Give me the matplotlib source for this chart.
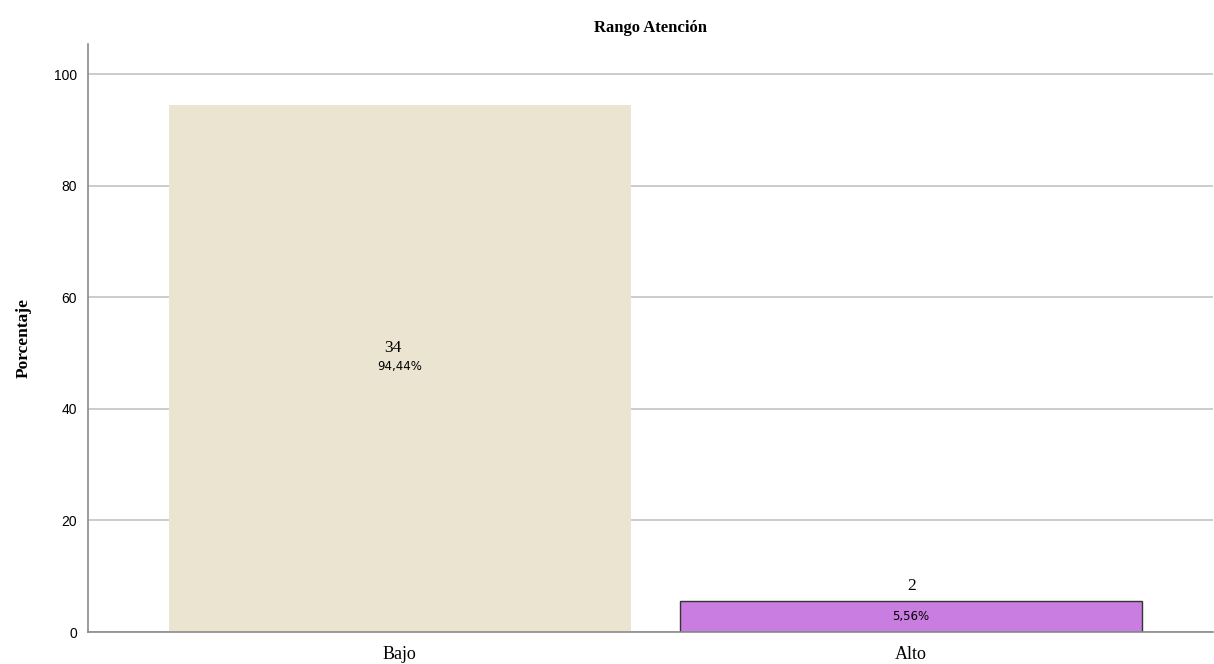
import matplotlib
matplotlib.use("Agg")
import matplotlib.pyplot as plt

categories = ["Bajo", "Alto"]
counts = [34, 2]
percents = [94.44, 5.56]
pct_labels = ["94,44%", "5,56%"]
colors = ["#EAE4D0", "#C97DE0"]
edges = ["none", "#333333"]

fig = plt.figure(figsize=(12.14, 6.64), dpi=100)
ax = fig.add_axes([88/1214, 32/664, (1213-88)/1214, (632-44)/664])

x = list(range(len(categories)))
for i in x:
    ax.bar(i, percents[i], width=0.903, color=colors[i],
           edgecolor=edges[i], linewidth=1.0 if edges[i] != "none" else 0, zorder=3)

ax.set_xlim(-0.609, 1.590)
ax.set_ylim(0, 105.4)
ax.set_yticks([0, 20, 40, 60, 80, 100])
ax.set_yticklabels(["0", "20", "40", "60", "80", "100"],
                   fontfamily="Liberation Sans", fontsize=10)
ax.set_xticks(x)
ax.set_xticklabels(categories, fontfamily="Liberation Serif", fontsize=13)
ax.tick_params(axis="x", length=0, pad=10)
ax.tick_params(axis="y", length=0, pad=8)

ax.yaxis.grid(True, color="#c4c4c4", linewidth=1.2, zorder=0)
ax.set_axisbelow(True)
for s in ["top", "right"]:
    ax.spines[s].set_visible(False)
for s in ["left", "bottom"]:
    ax.spines[s].set_color("#8a8a8a")
    ax.spines[s].set_linewidth(1.2)
ax.spines["bottom"].set_zorder(4)

# labels
ax.text(x[0] - 0.013, percents[0] / 2 + 3.6, str(counts[0]), ha="center", va="center",
        fontfamily="Liberation Serif", fontsize=12.5, zorder=5)
ax.text(x[0], percents[0] / 2 + 0.4, pct_labels[0], ha="center", va="center",
        fontfamily="DejaVu Sans", fontsize=8.5, zorder=5)
ax.text(x[1], percents[1] + 2.6, str(counts[1]), ha="center", va="center",
        fontfamily="Liberation Serif", fontsize=12.5, zorder=5)
ax.text(x[1], percents[1] / 2, pct_labels[1], ha="center", va="center",
        fontfamily="DejaVu Sans", fontsize=8.5, zorder=5)

ax.set_ylabel("Porcentaje", fontfamily="Liberation Serif", fontweight="bold",
              fontsize=12.5, labelpad=16)
fig.text(651/1214, 1 - 28/664, "Rango Atención", ha="center", va="center",
         fontfamily="Liberation Serif", fontweight="bold", fontsize=12)

fig.savefig("out.png", dpi=100, facecolor="white")
